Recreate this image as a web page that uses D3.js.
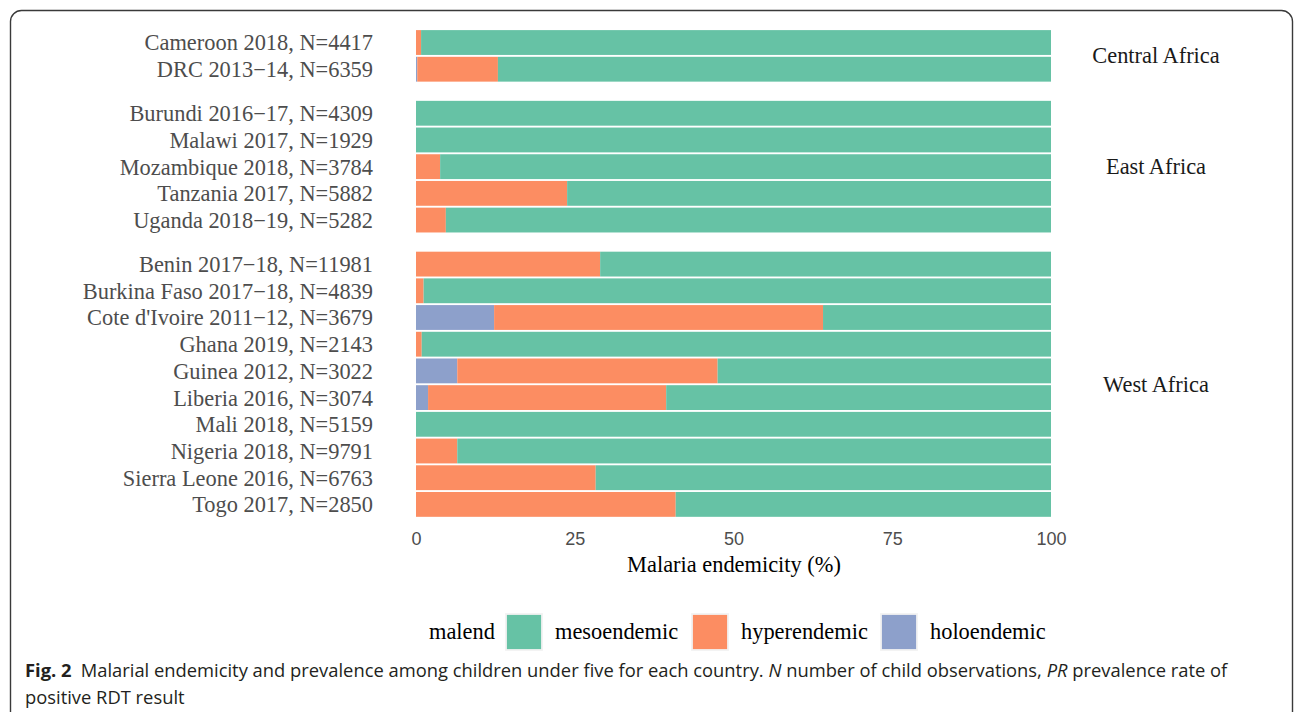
<!DOCTYPE html>
<html>
<head>
<meta charset="utf-8">
<script src="https://cdn.jsdelivr.net/npm/d3@7"></script>
<style>
  html, body { margin: 0; padding: 0; background: #fff; }
  svg { display: block; }
</style>
</head>
<body>
<svg id="chart" width="1296" height="712"></svg>
<script>
// ---- data ----
const categories = [
  "Cameroon 2018, N=4417", "DRC 2013\u221214, N=6359",
  "Burundi 2016\u221217, N=4309", "Malawi 2017, N=1929", "Mozambique 2018, N=3784",
  "Tanzania 2017, N=5882", "Uganda 2018\u221219, N=5282",
  "Benin 2017\u221218, N=11981", "Burkina Faso 2017\u221218, N=4839",
  "Cote d'Ivoire 2011\u221212, N=3679", "Ghana 2019, N=2143", "Guinea 2012, N=3022",
  "Liberia 2016, N=3074", "Mali 2018, N=5159", "Nigeria 2018, N=9791",
  "Sierra Leone 2016, N=6763", "Togo 2017, N=2850"
];
const regions = [
  "Central Africa", "Central Africa",
  "East Africa", "East Africa", "East Africa", "East Africa", "East Africa",
  "West Africa", "West Africa", "West Africa", "West Africa", "West Africa",
  "West Africa", "West Africa", "West Africa", "West Africa", "West Africa"
];
const regionOrder = ["Central Africa", "East Africa", "West Africa"];
const holoendemic  = [0, 0.2, 0, 0, 0, 0, 0, 0, 0, 12.3, 0, 6.5, 1.9, 0, 0, 0, 0];
const hyperendemic = [0.8, 12.7, 0, 0, 3.8, 23.8, 4.7, 29.0, 1.2, 51.8, 0.9, 41.0, 37.5, 0, 6.5, 28.3, 40.9];
const mesoendemic  = [99.2, 87.1, 100, 100, 96.2, 76.2, 95.3, 71.0, 98.8, 35.9, 99.1, 52.5, 60.6, 100, 93.5, 71.7, 59.1];
const xTicks = [0, 25, 50, 75, 100];
const legendKeys = ["mesoendemic", "hyperendemic", "holoendemic"];
const legendTitle = "malend";
const xTitle = "Malaria endemicity (%)";
const captionBold = "Fig. 2";
const captionLine2 = "positive RDT result";

// ---- setup ----
const colors = { mesoendemic: "#66c2a5", hyperendemic: "#fc8d62", holoendemic: "#8da0cb" };
const svg = d3.select("#chart");
const serif = "'Liberation Serif', 'Times New Roman', serif";
const sans = "'Liberation Sans', Arial, sans-serif";
const fs = 22.4;

// outer frame
svg.append("rect")
  .attr("x", 10.5).attr("y", 10.5).attr("width", 1282).attr("height", 760)
  .attr("rx", 11).attr("fill", "none").attr("stroke", "#3a3a3a").attr("stroke-width", 1.4);

const rows = categories.map((c, i) => ({
  cat: c, region: regions[i],
  holoendemic: holoendemic[i], hyperendemic: hyperendemic[i], mesoendemic: mesoendemic[i]
}));

const x = d3.scaleLinear().domain([0, 100]).range([416, 1051]);

const unit = 26.7, panelGap = 12, top0 = 26.5;
const stackGen = d3.stack().keys(["holoendemic", "hyperendemic", "mesoendemic"]);

let yStart = top0;
regionOrder.forEach(reg => {
  const data = rows.filter(r => r.region === reg);
  const n = data.length;
  const h = (n + 0.2) * unit;
  const y = d3.scalePoint().domain(data.map(d => d.cat)).range([yStart, yStart + h]).padding(0.6);
  const bh = y.step() * 0.93;
  const g = svg.append("g");
  const series = stackGen(data);
  series.forEach(s => {
    g.selectAll(null).data(s).enter().append("rect")
      .attr("x", d => x(d[0]))
      .attr("width", d => Math.max(0, x(d[1]) - x(d[0])))
      .attr("y", d => y(d.data.cat) - bh / 2)
      .attr("height", bh)
      .attr("fill", colors[s.key]);
  });
  // y labels
  const yAxis = d3.axisLeft(y).tickSize(0).tickPadding(0);
  const ax = svg.append("g").attr("transform", "translate(373,0)").call(yAxis);
  ax.select(".domain").remove();
  ax.selectAll("text")
    .attr("font-family", serif).attr("font-size", fs).attr("fill", "#4d4d4d")
    .attr("dy", "0.33em");
  // strip label
  svg.append("text")
    .attr("x", 1156).attr("y", yStart + h / 2).attr("dy", "0.33em")
    .attr("text-anchor", "middle").attr("font-family", serif).attr("font-size", fs)
    .attr("fill", "#1a1a1a").text(reg);
  yStart += h + panelGap;
});

// x axis
const xAxis = d3.axisBottom(x).tickValues(xTicks).tickSize(0).tickPadding(0);
const xg = svg.append("g").attr("transform", "translate(0,532)").call(xAxis);
xg.select(".domain").remove();
xg.selectAll("text").attr("font-family", sans).attr("font-size", 18)
  .attr("fill", "#4d4d4d").attr("dy", "0.71em");

svg.append("text").attr("x", 734).attr("y", 572).attr("text-anchor", "middle")
  .attr("font-family", serif).attr("font-size", fs).attr("fill", "#000").text(xTitle);

// legend
svg.append("text").attr("x", 429).attr("y", 639).attr("font-family", serif)
  .attr("font-size", fs).attr("fill", "#000").text(legendTitle);
const legPos = [505, 691, 880];
legendKeys.forEach((k, i) => {
  svg.append("rect").attr("x", legPos[i] + 1).attr("y", 614).attr("width", 36).attr("height", 36)
    .attr("fill", colors[k]).attr("stroke", "#f2f2f2").attr("stroke-width", 1.8);
  svg.append("text").attr("x", legPos[i] + 50).attr("y", 639).attr("font-family", serif)
    .attr("font-size", fs).attr("fill", "#000").text(k);
});

// caption
const cap1 = svg.append("text").attr("x", 0).attr("y", 0)
  .attr("font-family", "'Open Sans', sans-serif").attr("font-size", 18).attr("fill", "#231f20");
cap1.append("tspan").attr("font-weight", "bold").text(captionBold);
cap1.append("tspan").text("\u2002Malarial endemicity and prevalence among children under five for each country. ");
cap1.append("tspan").attr("font-style", "italic").text("N");
cap1.append("tspan").text(" number of child observations, ");
cap1.append("tspan").attr("font-style", "italic").text("PR");
cap1.append("tspan").text(" prevalence rate of");
const w1 = cap1.node().getComputedTextLength();
const sx = (1228 - 25) / w1;
cap1.attr("transform", `translate(25,677) scale(${sx},1)`);

svg.append("text").attr("transform", `translate(25,704) scale(${sx},1)`)
  .attr("font-family", "'Open Sans', sans-serif").attr("font-size", 18).attr("fill", "#231f20")
  .text(captionLine2);
</script>
</body>
</html>
